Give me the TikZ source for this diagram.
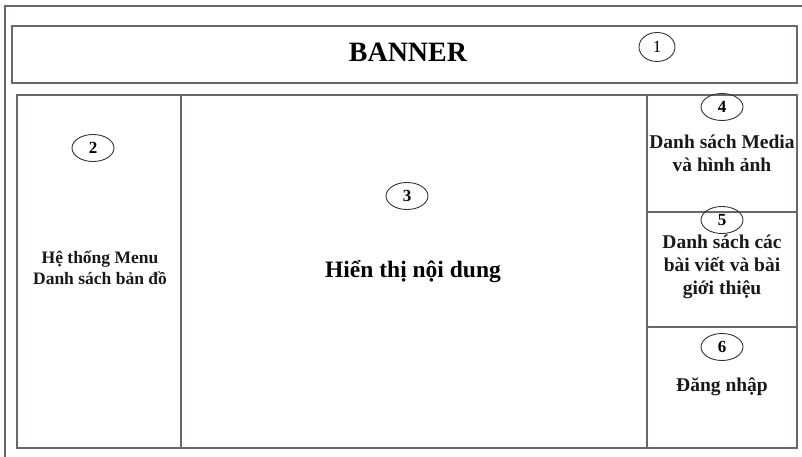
\documentclass[tikz,border=0pt]{standalone}
\usepackage{fontspec}
\setmainfont{Liberation Serif}
\usetikzlibrary{shapes.geometric}
\definecolor{frame}{HTML}{6E6662}
\tikzset{
  box/.style={draw=frame, line width=1.3pt},
  num/.style={draw=black!80, ellipse, line width=0.9pt, minimum width=42pt, minimum height=27pt, inner sep=0pt, font=\bfseries\fontsize{17}{19}\selectfont},
  lbl/.style={align=center, font=\bfseries\fontsize{17.5}{21}\selectfont, text=black!90},
  rlbl/.style={align=center, font=\bfseries\fontsize{19.5}{23}\selectfont, text=black!90},
}
\begin{document}
\begin{tikzpicture}[x=1pt,y=-1pt]
\useasboundingbox (0,0) rectangle (802,457);
\draw[box] (5,6) rectangle (808,465);
\draw[box] (12,26) rectangle (797,83);
\node[font=\bfseries\fontsize{28}{32}\selectfont] (banner) at (408,52) {BANNER};
\node[num, minimum width=36pt, minimum height=29pt, font=\fontsize{17}{19}\selectfont] (n1) at (657,47) {1};
% lower boxes
\draw[box] (17,95) rectangle (181,448);
\draw[box] (181,95) rectangle (647,448);
\draw[box] (647,95) rectangle (797,212);
\draw[box] (647,212) rectangle (797,327);
\draw[box] (647,327) rectangle (797,448);
\node[num] (n2) at (93,148) {2};
\node[lbl] (t2) at (100,268) {Hệ thống Menu\\Danh sách bản đồ};
\node[num] (n3) at (407,196) {3};
\node[font=\bfseries\fontsize{23.5}{27}\selectfont] (t3) at (413,272) {Hiển thị nội dung};
\node[num] (n4) at (722,107) {4};
\node[rlbl] (t4) at (722,153) {Danh sách Media\\và hình ảnh};
\node[num] (n5) at (722,220) {5};
\node[rlbl] (t5) at (722,267) {Danh sách các\\bài viết và bài\\giới thiệu};
\node[num] (n6) at (722,347) {6};
\node[rlbl] (t6) at (722,387) {Đăng nhập};
\end{tikzpicture}
\end{document}
